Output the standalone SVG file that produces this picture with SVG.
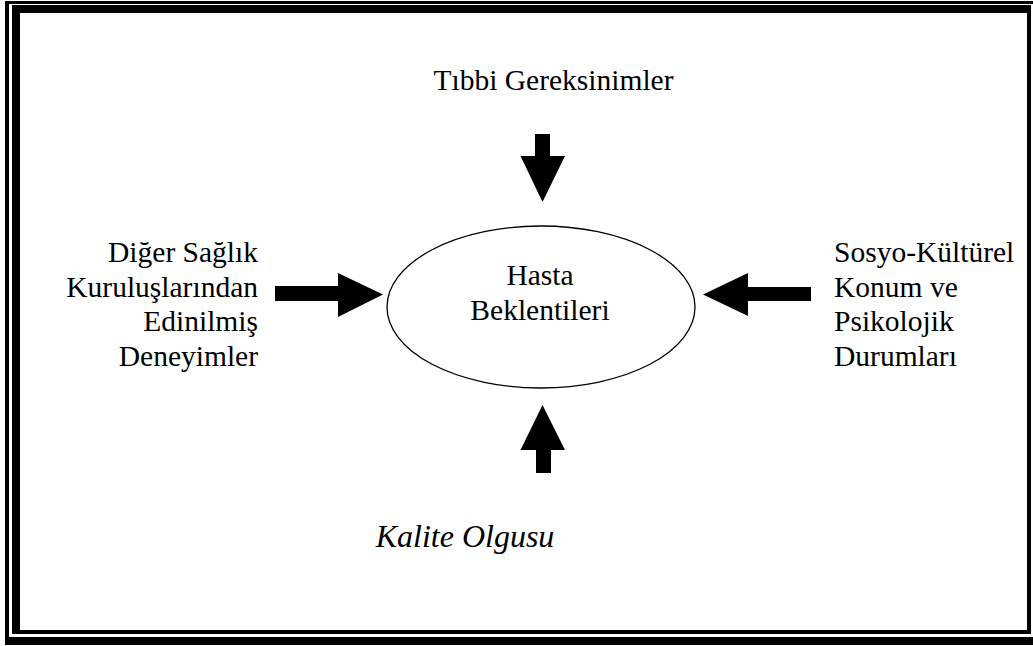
<svg xmlns="http://www.w3.org/2000/svg" width="1033" height="646" viewBox="0 0 1033 646">
<style>
.t{font-family:"Liberation Serif","Times New Roman",serif;font-size:29.5px;fill:#000}
.i{font-style:italic;font-size:32px}
.b{fill:#000}
</style>
<rect x="0" y="0" width="1033" height="646" fill="#fff"/>
<g id="frame" class="b">
<rect x="5" y="1" width="4" height="644"/>
<rect x="5" y="1" width="1028" height="3"/>
<rect x="5" y="637" width="1028" height="8"/>
<rect x="12" y="5" width="8" height="629"/>
<rect x="12" y="5" width="1019" height="8"/>
<rect x="1027" y="5" width="4" height="629"/>
<rect x="12" y="630" width="1019" height="4"/>
</g>
<g id="center">
<ellipse cx="541" cy="307" rx="154" ry="81" fill="#fff" stroke="#000" stroke-width="1.3"/>
<text class="t" x="540" y="285" text-anchor="middle">Hasta</text>
<text class="t" x="540" y="320" text-anchor="middle">Beklentileri</text>
</g>
<g id="top">
<text class="t" x="553.5" y="90" text-anchor="middle">Tıbbi Gereksinimler</text>
</g>
<g id="left">
<text class="t" x="258" y="262" text-anchor="end">Diğer Sağlık</text>
<text class="t" x="258" y="296.5" text-anchor="end">Kuruluşlarından</text>
<text class="t" x="258" y="331" text-anchor="end">Edinilmiş</text>
<text class="t" x="258" y="365.5" text-anchor="end">Deneyimler</text>
</g>
<g id="right">
<text class="t" x="834" y="262">Sosyo-Kültürel</text>
<text class="t" x="834" y="296.5">Konum ve</text>
<text class="t" x="834" y="331">Psikolojik</text>
<text class="t" x="834" y="365.5">Durumları</text>
</g>
<g id="bottom">
<text class="t i" x="465" y="547" text-anchor="middle">Kalite Olgusu</text>
</g>
<g id="connectors" class="b">
<polygon points="535,134 550,134 550,156 565,156 542.5,202 520.5,156 535,156"/>
<polygon points="536,473 551,473 551,450 565,450 542.5,405 520.5,450 536,450"/>
<polygon points="275,286 338,286 338,273 383,294.5 338,317 338,301 275,301"/>
<polygon points="811,287 748,287 748,273 703,294.5 748,316 748,301 811,301"/>
</g>
</svg>
